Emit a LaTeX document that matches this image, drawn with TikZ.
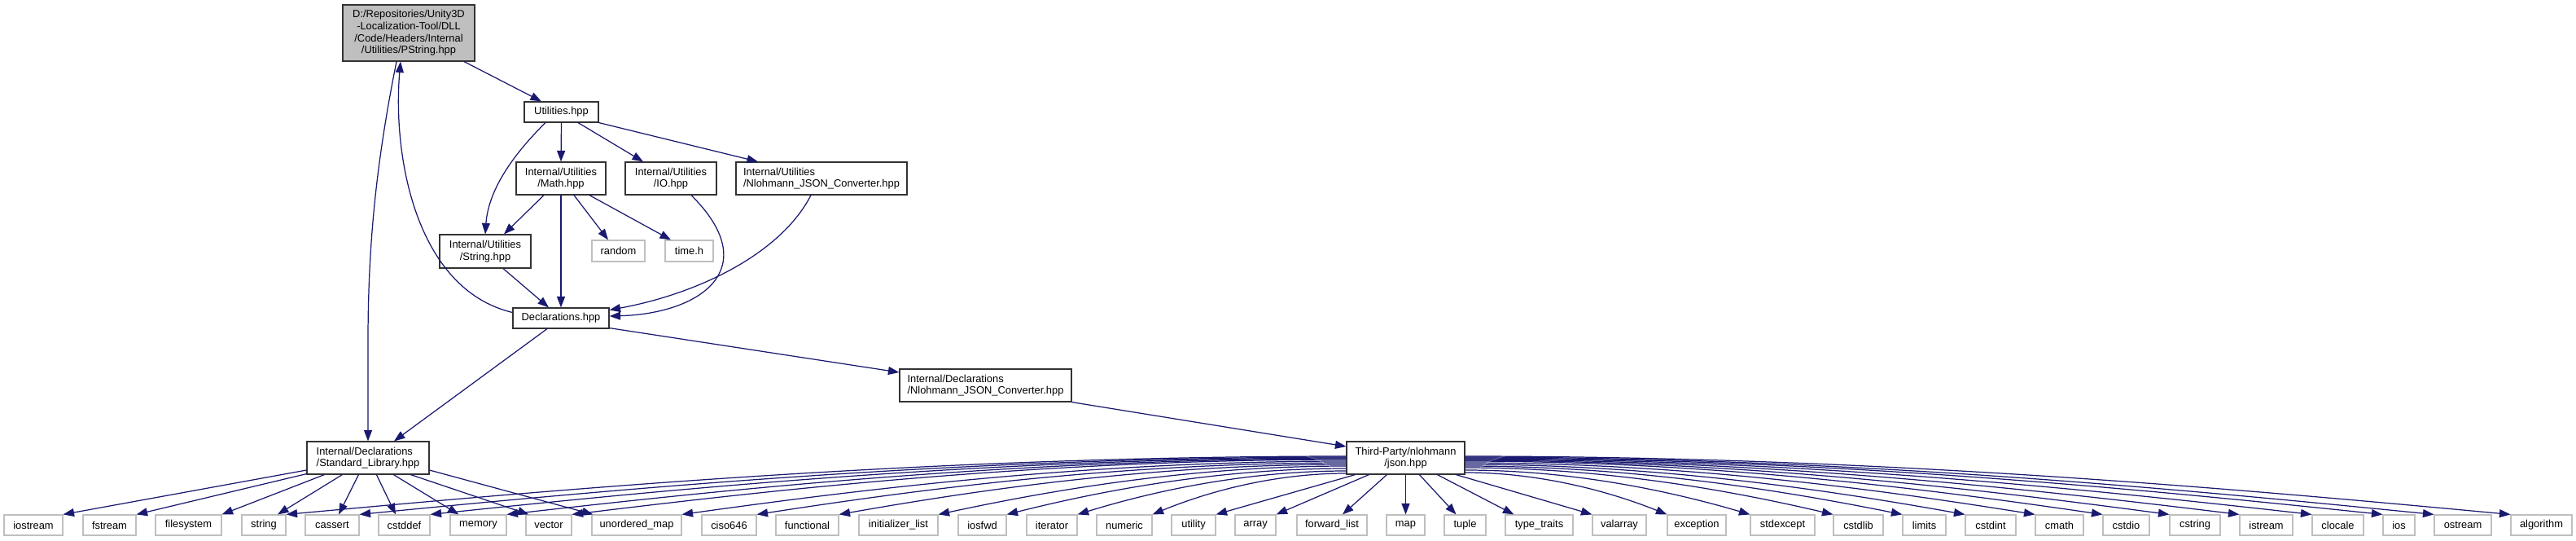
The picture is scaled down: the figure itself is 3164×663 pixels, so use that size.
\documentclass[tikz,border=0pt]{standalone}
\usepackage{fontspec}
\setmainfont{Liberation Sans}
\usetikzlibrary{arrows.meta,calc}
\definecolor{edgec}{HTML}{191970}
\definecolor{extc}{HTML}{BFBFBF}
\newcommand{\mkbox}[7][box]{\pgfmathsetmacro{\mkw}{#5*0.03}\pgfmathsetmacro{\mkh}{#6*0.03}\node[#1,minimum width=\mkw cm,minimum height=\mkh cm] (#2) at (#3,#4) {#7};}
\begin{document}
\begin{tikzpicture}[x=0.03cm,y=-0.03cm,
  box/.style={draw=black!80,line width=1pt,fill=white,inner sep=0pt,align=center,font=\fontsize{11}{12.5}\selectfont},
  boxl/.style={box,align=left},
  cur/.style={box,fill=extc},
  ext/.style={box,draw=extc},
  edge/.style={draw=edgec,line width=1.05pt,-{Triangle[length=11.5pt,width=8.5pt]}}]
\useasboundingbox[fill=white] (0,0) rectangle (3164,663);
% upper nodes
\mkbox[cur]{pstr}{502}{40.5}{162}{69}{D:/Repositories/Unity3D\\-Localization-Tool/DLL\\/Code/Headers/Internal\\/Utilities/PString.hpp}
\mkbox{util}{689.5}{137.5}{91}{25}{Utilities.hpp}
\mkbox{math}{689}{219}{110}{40}{Internal/Utilities\\/Math.hpp}
\mkbox{io}{824}{219}{112}{40}{Internal/Utilities\\/IO.hpp}
\mkbox[boxl]{njcu}{1009}{219}{210}{40}{Internal/Utilities\\/Nlohmann\_JSON\_Converter.hpp}
\mkbox{str}{596}{308.5}{112}{41}{Internal/Utilities\\/String.hpp}
\mkbox[ext]{random}{759.5}{308}{65}{26}{random}
\mkbox[ext]{timeh}{846.5}{308}{59}{26}{time.h}
\mkbox{decl}{689}{390.5}{118}{25}{Declarations.hpp}
\mkbox[boxl]{dnjc}{1210.5}{473}{211}{40}{Internal/Declarations\\/Nlohmann\_JSON\_Converter.hpp}
\mkbox[boxl]{sl}{452}{562}{150}{40}{Internal/Declarations\\/Standard\_Library.hpp}
\mkbox{json}{1726.5}{562}{145}{40}{Third-Party/nlohmann\\/json.hpp}
% bottom row
\mkbox[ext]{iostream}{41}{644.5}{72}{25}{iostream}
\mkbox[ext]{fstream}{134.5}{644.5}{65}{25}{fstream}
\mkbox[ext]{filesystem}{231.5}{644.5}{81}{25}{filesystem}
\mkbox[ext]{string}{324}{644.5}{54}{25}{string}
\mkbox[ext]{cassert}{408}{644.5}{66}{25}{cassert}
\mkbox[ext]{cstddef}{496.5}{644.5}{63}{25}{cstddef}
\mkbox[ext]{memory}{587.5}{644.5}{69}{25}{memory}
\mkbox[ext]{vector}{674}{644.5}{56}{25}{vector}
\mkbox[ext]{umap}{782}{644.5}{110}{25}{unordered\_map}
\mkbox[ext]{ciso}{895.5}{644.5}{67}{25}{ciso646}
\mkbox[ext]{functional}{991.5}{644.5}{77}{25}{functional}
\mkbox[ext]{initlist}{1103.5}{644.5}{97}{25}{initializer\_list}
\mkbox[ext]{iosfwd}{1206.5}{644.5}{59}{25}{iosfwd}
\mkbox[ext]{iterator}{1292}{644.5}{62}{25}{iterator}
\mkbox[ext]{numeric}{1381}{644.5}{68}{25}{numeric}
\mkbox[ext]{utility}{1466}{644.5}{54}{25}{utility}
\mkbox[ext]{array}{1542}{644.5}{50}{25}{array}
\mkbox[ext]{fwdlist}{1636}{644.5}{86}{25}{forward\_list}
\mkbox[ext]{map}{1726.5}{644.5}{47}{25}{map}
\mkbox[ext]{tuple}{1799.5}{644.5}{51}{25}{tuple}
\mkbox[ext]{typetraits}{1890.5}{644.5}{83}{25}{type\_traits}
\mkbox[ext]{valarray}{1989}{644.5}{66}{25}{valarray}
\mkbox[ext]{exception}{2084}{644.5}{72}{25}{exception}
\mkbox[ext]{stdexcept}{2189.5}{644.5}{79}{25}{stdexcept}
\mkbox[ext]{cstdlib}{2282.5}{644.5}{61}{25}{cstdlib}
\mkbox[ext]{limits}{2363.5}{644.5}{53}{25}{limits}
\mkbox[ext]{cstdint}{2445}{644.5}{62}{25}{cstdint}
\mkbox[ext]{cmath}{2529.5}{644.5}{59}{25}{cmath}
\mkbox[ext]{cstdio}{2611.5}{644.5}{57}{25}{cstdio}
\mkbox[ext]{cstring}{2696}{644.5}{62}{25}{cstring}
\mkbox[ext]{istream}{2783.5}{644.5}{65}{25}{istream}
\mkbox[ext]{clocale}{2871.5}{644.5}{63}{25}{clocale}
\mkbox[ext]{ios}{2946.5}{644.5}{39}{25}{ios}
\mkbox[ext]{ostream}{3025}{644.5}{70}{25}{ostream}
\mkbox[ext]{algorithm}{3121.5}{644.5}{75}{25}{algorithm}
% upper edges
\coordinate (pv) at (452,420);
\draw[edge] ($(pstr.south)+(68,0)$) -- ($(util.north)+(-24.5,0)$);
\draw[edge] ($(pstr.south)+(-15,0)$) .. controls (462,200) and (452,300) .. (pv) -- (sl.north);
\draw[edge] ($(decl.west)+(0,-7)$) .. controls (510,355) and (482,190) .. ($(pstr.south)+(-10,0)$);
\draw[edge] ($(util.south)+(-19.5,0)$) .. controls (635,185) and (600,230) .. (str.north);
\draw[edge] (util.south) -- (math.north);
\draw[edge] ($(util.south)+(20.5,0)$) -- ($(io.north)+(-34,0)$);
\draw[edge] (util.south east) -- ($(njcu.north)+(-78,0)$);
\draw[edge] ($(math.south)+(-21,0)$) -- ($(str.north)+(23,0)$);
\draw[edge] (math.south) -- (decl.north);
\draw[edge] ($(math.south)+(16,0)$) -- ($(random.north)+(-12.5,0)$);
\draw[edge] ($(math.south)+(35,0)$) -- ($(timeh.north)+(-22.5,0)$);
\draw[edge] ($(str.south)+(22,0)$) -- ($(decl.north)+(-15,0)$);
\draw[edge] ($(io.south)+(25,0)$) .. controls (940,330) and (860,385) .. ($(decl.east)+(0,-2.5)$);
\draw[edge] ($(njcu.south)+(-13,0)$) .. controls (960,310) and (860,360) .. ($(decl.east)+(0,-10)$);
\draw[edge] ($(decl.south)+(-17,0)$) -- ($(sl.north)+(32,0)$);
\draw[edge] ($(decl.south east)+(0,-1)$) -- ($(dnjc.west)+(0,-16)$);
\draw[edge] (dnjc.south east) -- ($(json.west)+(0,-14)$);
% Standard_Library edges
\draw[edge] ($(sl.west)+(0,15)$) -- (iostream.north east);
\draw[edge] ($(sl.south west)+(0,-1)$) -- (fstream.north east);
\draw[edge] ($(sl.south west)+(22,0)$) -- (filesystem.north east);
\draw[edge] ($(sl.south west)+(44,0)$) -- ($(string.north)+(17,0)$);
\draw[edge] ($(sl.south west)+(64,0)$) -- ($(cassert.north)+(8,0)$);
\draw[edge] ($(sl.south west)+(86,0)$) -- ($(cstddef.north)+(-10.5,0)$);
\draw[edge] ($(sl.south west)+(107,0)$) -- ($(memory.north west)+(11,0)$);
\draw[edge] ($(sl.south west)+(128,0)$) -- ($(vector.north west)+(4,0)$);
\draw[edge] ($(sl.east)+(0,15)$) -- ($(umap.north west)+(2,0)$);
% json edges, curved: flat at json, steeper at target
\foreach \t/\dy in {string/-2,cassert/-1,cstddef/0,memory/1,vector/2,umap/4,ciso/6,functional/8,initlist/10,iosfwd/13,iterator/16,numeric/19}{
  \coordinate (s) at ($(json.west)+(0,\dy)$);
  \coordinate (e) at (\t.north east);
  \coordinate (c1) at ($(s)!0.4!(e)$);
  \coordinate (c2) at ($(s)!0.75!(e)$);
  \draw[edge] (s) .. controls (c1 |- s) and ($(c2)+(0,-12)$) .. (e);
}
\draw[edge] ($(json.south west)+(11,0)$) -- (utility.north east);
\draw[edge] ($(json.south west)+(28,0)$) -- (array.north east);
\draw[edge] ($(json.south west)+(50,0)$) -- ($(fwdlist.north)+(13,0)$);
\draw[edge] (json.south) -- (map.north);
\draw[edge] ($(json.south west)+(90,0)$) -- ($(tuple.north)+(-11,0)$);
\draw[edge] ($(json.south west)+(112,0)$) -- ($(typetraits.north west)+(11,0)$);
\draw[edge] ($(json.south west)+(135,0)$) -- (valarray.north west);
\foreach \t/\dy in {exception/18,stdexcept/15,cstdlib/12,limits/10,cstdint/8,cmath/6,cstdio/4,cstring/3,istream/2,clocale/1,ios/0,ostream/-1,algorithm/-2}{
  \coordinate (s) at ($(json.east)+(0,\dy)$);
  \coordinate (e) at (\t.north west);
  \coordinate (c1) at ($(s)!0.4!(e)$);
  \coordinate (c2) at ($(s)!0.75!(e)$);
  \draw[edge] (s) .. controls (c1 |- s) and ($(c2)+(0,-12)$) .. (e);
}
\end{tikzpicture}
\end{document}
